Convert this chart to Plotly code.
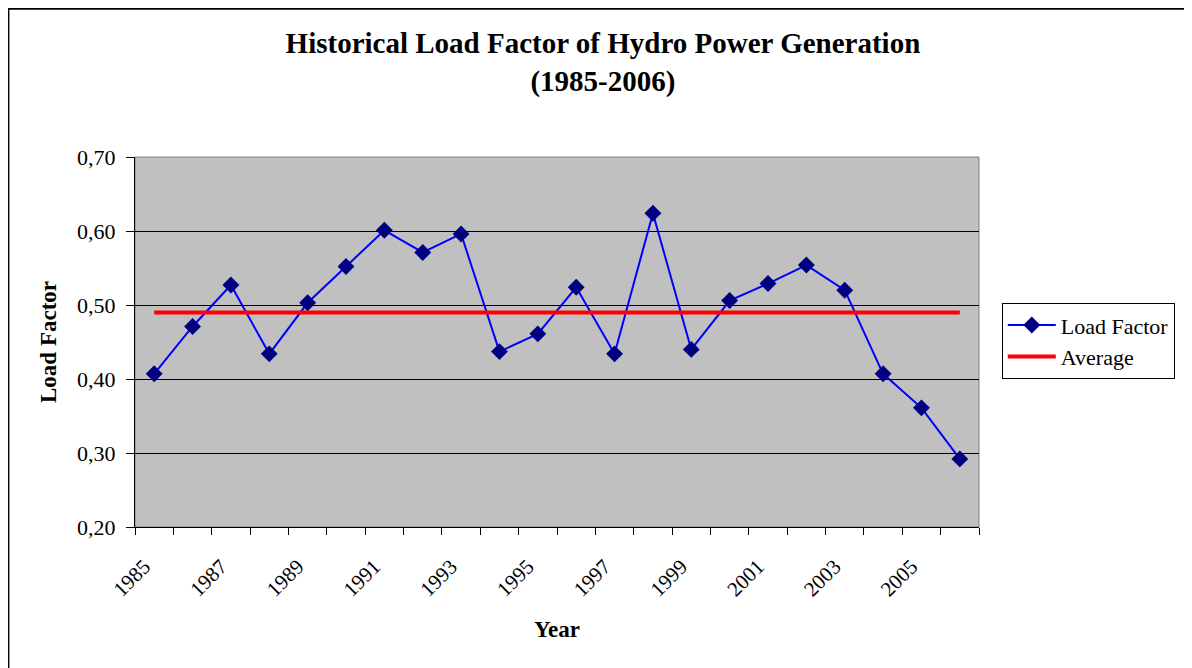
import plotly.graph_objects as go

# ── Data ───────────────────────────────────────────────────────────────────────

YEARS = list(range(1985, 2007))
LOAD_FACTOR = [0.407, 0.471, 0.527, 0.434, 0.503, 0.552, 0.601, 0.571, 0.596, 0.437, 0.461,
               0.524, 0.434, 0.624, 0.440, 0.506, 0.529, 0.554, 0.520, 0.407, 0.361, 0.292]
AVERAGE = 0.490
YEAR_LABELS = list(range(1985, 2006, 2))

SERIF = "Liberation Serif, Times New Roman, serif"

# ── Figure ─────────────────────────────────────────────────────────────────────
# page body has an 8px margin, so the figure is sized 1184x660 to fit the window

fig = go.Figure()
fig.add_trace(go.Scatter(
    x=YEARS, y=LOAD_FACTOR, mode="lines+markers", name="Load Factor",
    line=dict(color="#0000FF", width=2),
    marker=dict(symbol="diamond", size=13, color="#000080"),
))
fig.add_trace(go.Scatter(
    x=YEARS, y=[AVERAGE] * len(YEARS), mode="lines", name="Average",
    line=dict(color="#FF0000", width=4),
))

fig.update_layout(
    width=1184, height=660,
    separators=",.",
    paper_bgcolor="white",
    plot_bgcolor="#C0C0C0",
    font=dict(family=SERIF, color="black", size=22),
    margin=dict(l=127, r=213, t=149, b=141, autoexpand=False),
    title=dict(
        text="Historical Load Factor of Hydro Power Generation<br>(1985-2006)",
        font=dict(family=SERIF, size=29, weight="bold"),
        x=0.5025, xanchor="center", yref="container", y=0.932, yanchor="top",
    ),
    legend=dict(
        x=1.027, y=0.605, xanchor="left", yanchor="top",
        bordercolor="black", borderwidth=1, bgcolor="white",
        font=dict(family=SERIF, size=22), itemwidth=48,
    ),
    showlegend=True,
    xaxis=dict(
        range=[1984.5, 2006.5],
        tickmode="array", tickvals=YEAR_LABELS, ticktext=[str(y) for y in YEAR_LABELS],
        tickangle=-45, ticks="", showgrid=False, zeroline=False,
        tickfont=dict(size=21), ticklabelstandoff=18, ticklabelshift=-10,
        showline=True, linecolor="black", linewidth=1,
        minor=dict(tick0=1984.5, dtick=1, ticks="outside", ticklen=7,
                   tickcolor="black", showgrid=False),
        title=dict(text="Year", font=dict(family=SERIF, size=23, weight="bold"), standoff=20),
    ),
    yaxis=dict(
        range=[0.2, 0.7], dtick=0.1, tickformat=".2f",
        ticks="outside", ticklen=8, tickcolor="black", ticklabelstandoff=6,
        showgrid=True, gridcolor="#000000", gridwidth=1, zeroline=False,
        showline=True, linecolor="black", linewidth=1,
        title=dict(text="Load Factor", font=dict(family=SERIF, size=23, weight="bold"), standoff=14),
    ),
    shapes=[
        dict(type="rect", xref="paper", yref="paper", x0=0, x1=1, y0=0, y1=1,
             line=dict(color="#808080", width=1), layer="below"),
        dict(type="rect", xref="paper", yref="paper", x0=-0.150, x1=1.5, y0=-0.6, y1=1.401,
             line=dict(color="black", width=2), layer="above"),
    ],
)

fig.write_html("out.html")
